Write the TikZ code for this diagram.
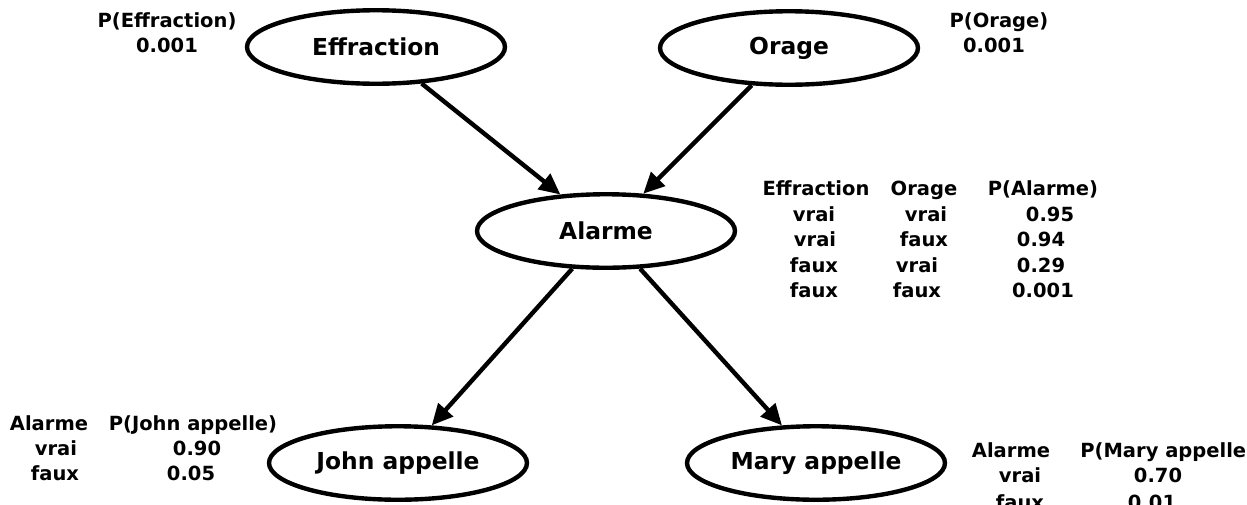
\documentclass[tikz,border=0pt]{standalone}
\usepackage{fontspec}
\setmainfont{DejaVu Sans}
\usetikzlibrary{shapes.geometric, arrows.meta}

\begin{document}
\begin{tikzpicture}[x=0.02cm, y=-0.02cm,
  var/.style={ellipse, draw, line width=2.5pt, minimum width=5.16cm, minimum height=1.47cm, inner sep=0pt, font=\fontsize{13.3}{16}\selectfont\bfseries},
  prob/.style={anchor=base, inner sep=0pt, font=\fontsize{11.1}{13}\selectfont\bfseries},
  edge/.style={line width=2.5pt, -{Triangle[length=12pt, width=11pt]}}]

% Fix the frame
\useasboundingbox (0,0) rectangle (1247,504);
\clip (0,0) rectangle (1247,504);

% Draw the variables
\node[var] (effraction) at (376,47) {Effraction};
\node[var] (orage) at (789,48) {Orage};
\node[var] (alarme) at (606,231) {Alarme};
\node[var] (john) at (398,463) {John appelle};
\node[var] (mary) at (816,463) {Mary appelle};

% Draw the dependencies
\draw[edge] (effraction) -- (alarme);
\draw[edge] (orage) -- (alarme);
\draw[edge] (alarme) -- (john);
\draw[edge] (alarme) -- (mary);

% Priors
\node[prob] (peff) at (167,27) {P(Effraction)};
\node[prob] (peffval) at (167,52) {0.001};
\node[prob] (porage) at (999,27) {P(Orage)};
\node[prob] (porageval) at (994,52) {0.001};

% Table of Alarme
\node[prob] (aEhead) at (816,195) {Effraction};
\node[prob] (aOhead) at (924,195) {Orage};
\node[prob] (aPhead) at (1043,195) {P(Alarme)};
\node[prob] (aE1) at (814,221) {vrai};
\node[prob] (aO1) at (926,221) {vrai};
\node[prob] (aP1) at (1050,221) {0.95};
\node[prob] (aE2) at (815,246.5) {vrai};
\node[prob] (aO2) at (924,246.5) {faux};
\node[prob] (aP2) at (1041,246.5) {0.94};
\node[prob] (aE3) at (814,272) {faux};
\node[prob] (aO3) at (917,272) {vrai};
\node[prob] (aP3) at (1041,272) {0.29};
\node[prob] (aE4) at (814,297.5) {faux};
\node[prob] (aO4) at (917,297.5) {faux};
\node[prob] (aP4) at (1043,297.5) {0.001};

% Table of John appelle
\node[prob] (jAhead) at (49,430) {Alarme};
\node[prob] (jPhead) at (193,430) {P(John appelle)};
\node[prob] (jA1) at (56,455) {vrai};
\node[prob] (jP1) at (197,455) {0.90};
\node[prob] (jA2) at (55,480) {faux};
\node[prob] (jP2) at (191,480) {0.05};

% Table of Mary appelle
\node[prob] (mAhead) at (1011,457) {Alarme};
\node[prob, anchor=base west] (mPhead) at (1080,457) {P(Mary appelle)};
\node[prob] (mA1) at (1020,482) {vrai};
\node[prob] (mP1) at (1158,482) {0.70};
\node[prob] (mA2) at (1020,509) {faux};
\node[prob] (mP2) at (1152,509) {0.01};

\end{tikzpicture}
\end{document}
